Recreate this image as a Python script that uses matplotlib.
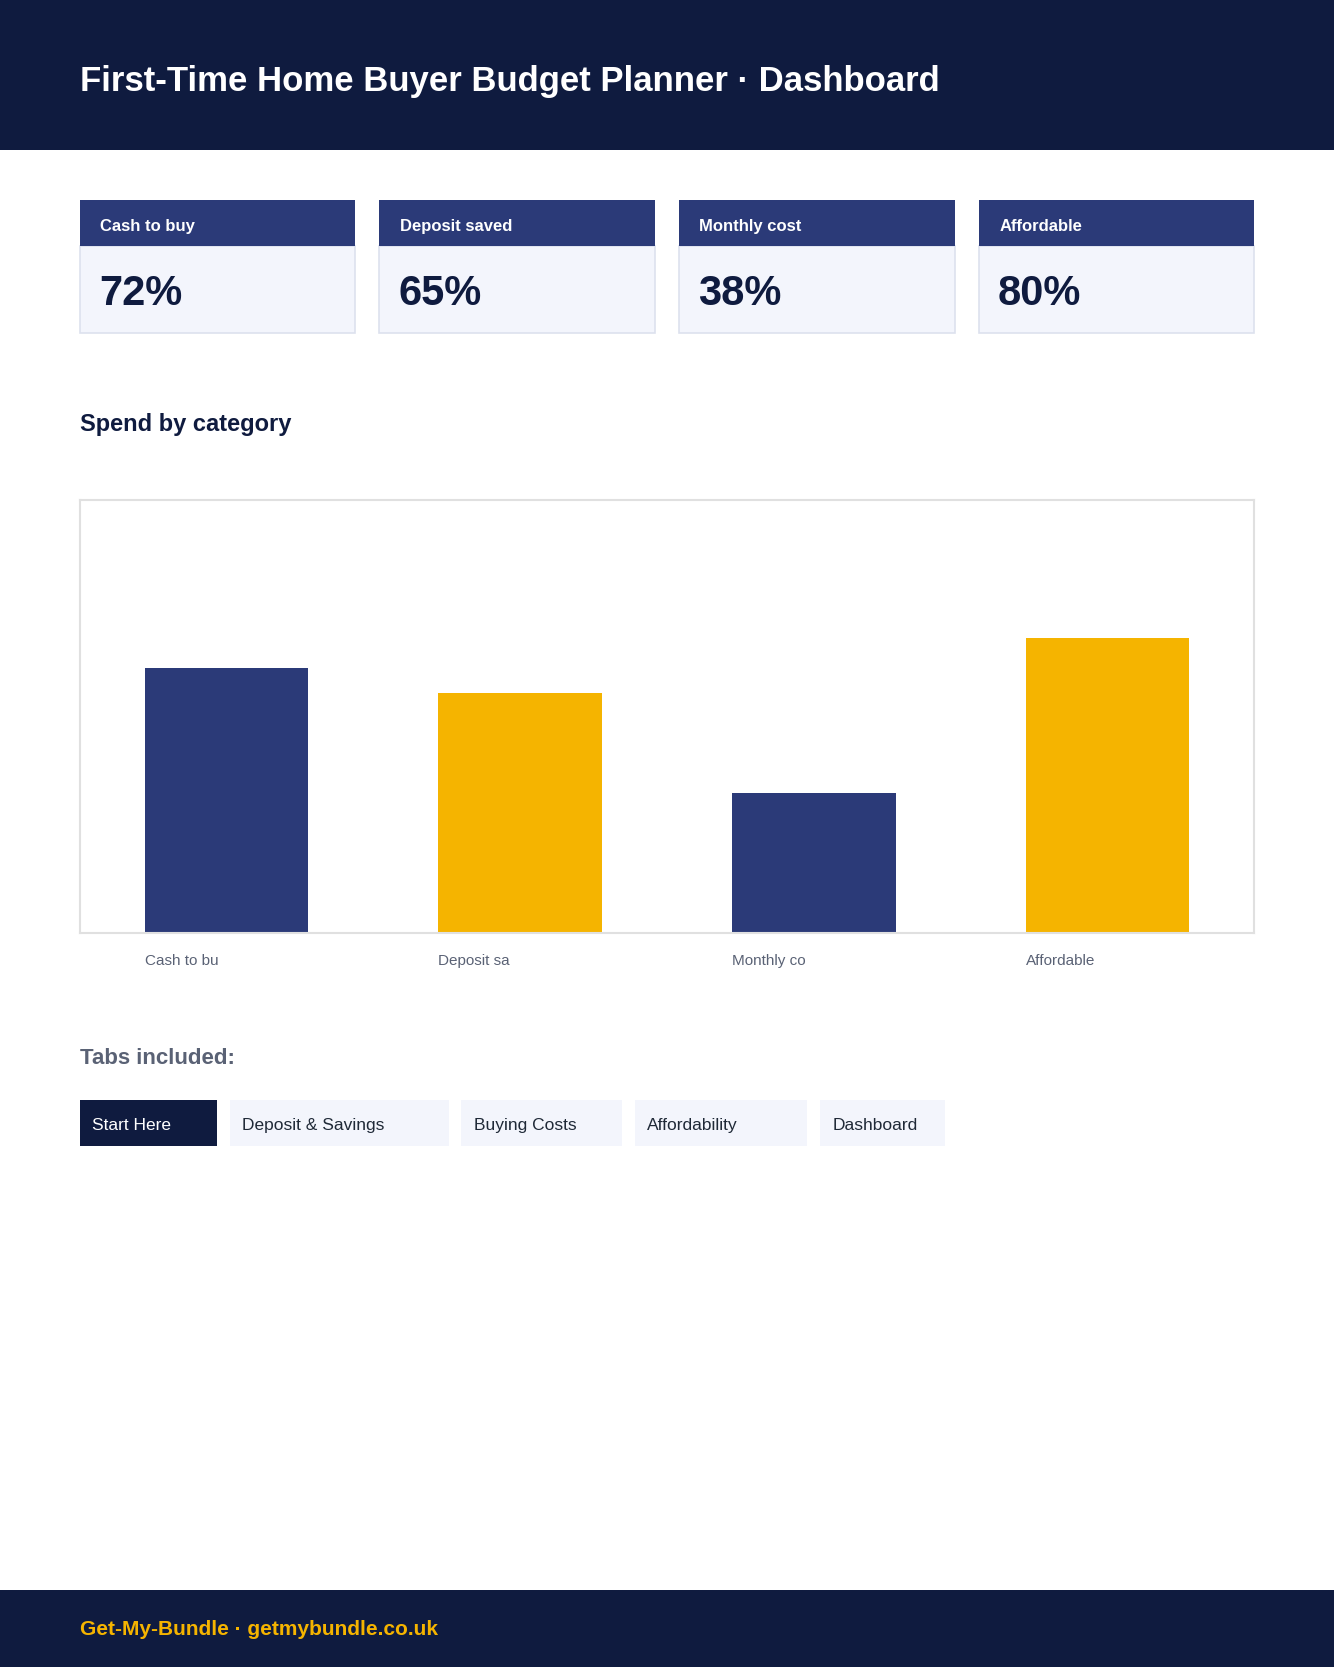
import matplotlib
matplotlib.use("Agg")
import matplotlib.pyplot as plt
from matplotlib.patches import Rectangle

plt.rcParams['font.family'] = ['Liberation Sans', 'DejaVu Sans']

# data
kpi_labels = ["Cash to buy", "Deposit saved", "Monthly cost", "Affordable"]
kpi_values = [72, 65, 38, 80]
bar_labels = ["Cash to bu", "Deposit sa", "Monthly co", "Affordable"]
tabs = ["Start Here", "Deposit & Savings", "Buying Costs", "Affordability", "Dashboard"]

NAVY = "#0F1B3F"
BLUE = "#2B3A78"
GOLD = "#F5B400"
PALE = "#F3F5FC"
GREY = "#5A6275"

W, H = 1255.0, 1568.0
fig = plt.figure(figsize=(13.34, 16.67), dpi=100)

def fx(x): return x / W
def fy(y): return 1 - y / H

def rect(x0, y0, x1, y1, fc, ec="none", lw=0):
    fig.patches.append(Rectangle((fx(x0), fy(y1)), fx(x1) - fx(x0), fy(y0) - fy(y1),
                                 transform=fig.transFigure, fc=fc, ec=ec, lw=lw))

def txt(x, y, s, **kw):
    fig.text(fx(x), fy(y), s, va="center", ha="left", **kw)

# header
rect(0, 0, W, 141, NAVY)
txt(75, 77, "First-Time Home Buyer Budget Planner · Dashboard", color="white", fontsize=25, weight="bold")

# kpi cards
card_x = [75, 357, 639, 921]
for x, lab, v in zip(card_x, kpi_labels, kpi_values):
    rect(x, 231, x + 259, 313, PALE, ec="#DDE1EE", lw=1.2)
    rect(x, 188, x + 259, 231, BLUE)
    txt(x + 19, 213, lab, color="white", fontsize=12, weight="bold")
    txt(x + 18, 277, f"{v}%", color=NAVY, fontsize=30, weight="bold")

txt(75, 399, "Spend by category", color=NAVY, fontsize=17, weight="bold")

# bar chart
ax = fig.add_axes([fx(75), fy(878), fx(1180) - fx(75), fy(470) - fy(878)])
xs = list(range(len(kpi_values)))
ax.bar(xs, kpi_values, width=0.558, color=[BLUE, GOLD, BLUE, GOLD])
ax.set_xlim(-0.5, 3.5)
ax.set_ylim(0, 117.5)
ax.set_yticks([])
ax.set_xticks([])
for s in ax.spines.values():
    s.set_color("#E0E0E0")
    s.set_linewidth(1.5)
for x, lab in zip(xs, bar_labels):
    ax.annotate(lab, (x - 0.279, 0), xytext=(0, -20), textcoords="offset points",
                ha="left", va="center", color=GREY, fontsize=11)

# tabs
txt(75, 996, "Tabs included:", color=GREY, fontsize=16, weight="bold")
tab_x = [(75, 204), (216, 422), (434, 585), (597, 759), (771, 889)]
for i, ((x0, x1), t) in enumerate(zip(tab_x, tabs)):
    rect(x0, 1035, x1, 1078, NAVY if i == 0 else PALE)
    txt(x0 + 12, 1059, t, color="white" if i == 0 else "#1F2937", fontsize=12.5)

# footer
rect(0, 1496, W, H, NAVY)
txt(75, 1533, "Get-My-Bundle · getmybundle.co.uk", color=GOLD, fontsize=15, weight="bold")

fig.savefig("out.png", dpi=100, facecolor="white")
